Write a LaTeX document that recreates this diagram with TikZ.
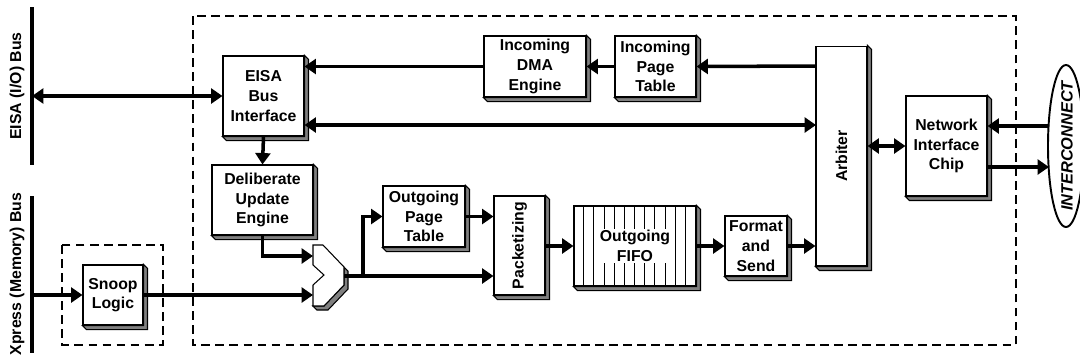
\documentclass[tikz,border=0pt]{standalone}
\usepackage{fontspec}
\setmainfont{Liberation Sans}
\usetikzlibrary{calc,arrows.meta,shapes.geometric}
\tikzset{
	blk/.style={draw, line width=0.6pt, fill=white, inner sep=0pt, align=center, font=\fontsize{9}{11.2}\selectfont\bfseries},
	lbl/.style={inner sep=0pt, align=center, font=\fontsize{9}{11.2}\selectfont\bfseries},
	arr/.style={line width=2pt, -{Triangle[length=6.5pt,width=8.5pt]}},
	dbl/.style={line width=2pt, {Triangle[length=6.5pt,width=8.5pt]}-{Triangle[length=6.5pt,width=8.5pt]}},
	frame/.style={line width=0.9pt, dash pattern=on 5pt off 3pt},
	bus/.style={line width=2.4pt}
}
\def\boxshade(#1){\filldraw[fill=black!50, line width=0.6pt] (#1.north east) -- ++(4,4) -- ($(#1.south east)+(4,4)$) -- ($(#1.south west)+(4,4)$) -- (#1.south west) -- (#1.south east) -- cycle;}

\begin{document}
\begin{tikzpicture}[x=0.02cm, y=-0.02cm]
			%%%%% START %%%%%
			\useasboundingbox (0,0) rectangle (1080,360);
			
			\draw[frame] (193,16) rectangle (1016,345);
			\draw[frame] (62,245) rectangle (163,345);
			
			% buses
			\draw[bus] (32,7) -- (32,165);
			\draw[bus] (32,196) -- (32,353);
			\node[lbl, rotate=90] (eisabus) at (17,86) {EISA (I/O) Bus};
			\node[lbl, rotate=90] (xbus) at (17,274) {Xpress (Memory) Bus};
			\coordinate (eisatap) at (32,96);
			\coordinate (xtap) at (32,295);
			
			% blocks
			\node[blk, minimum width=1.62cm, minimum height=1.6cm] (eisa) at (263.5,96) {EISA\\Bus\\Interface};
			\node[blk, minimum width=2.02cm, minimum height=1.4cm] (due) at (262.5,200) {Deliberate\\Update\\Engine};
			\node[blk, minimum width=1.2cm, minimum height=1.2cm] (snoop) at (113,295) {Snoop\\Logic};
			\node[blk, minimum width=2.04cm, minimum height=1.22cm] (idma) at (535,66.5) {Incoming\\DMA\\Engine};
			\node[blk, minimum width=1.62cm, minimum height=1.22cm] (ipt) at (655.5,66.5) {Incoming\\Page\\Table};
			\node[blk, minimum width=1.64cm, minimum height=1.22cm] (opt) at (424,216.5) {Outgoing\\Page\\Table};
			\node[blk, minimum width=1.02cm, minimum height=1.98cm] (pkt) at (519.5,245.5) {\rotatebox{90}{Packetizing}};
			\node[blk, minimum width=2.44cm, minimum height=1.6cm] (fifo) at (635,246) {};
			\node[blk, minimum width=1.24cm, minimum height=1.2cm] (fmt) at (756,246) {Format\\and\\Send};
			\node[blk, minimum width=1.02cm, minimum height=4.4cm] (arb) at (841.5,156) {\rotatebox{90}{Arbiter}};
			\node[blk, minimum width=1.62cm, minimum height=2cm] (nic) at (946.5,146) {Network\\Interface\\Chip};
			
			\foreach \b in {eisa,due,snoop,idma,ipt,opt,pkt,fifo,fmt,arb,nic}
				\boxshade(\b);
			
			\foreach \i in {1,...,11}
				\draw[line width=0.4pt] ($(fifo.north west)+(\i*10.17,0)$) -- ($(fifo.south west)+(\i*10.17,0)$);
			\node[lbl, fill=white, inner sep=1pt] (fifolbl) at (fifo) {Outgoing\\FIFO};
			
			% merge
			\filldraw[fill=black!50, line width=0.6pt] (344,267) -- (348,271) -- (348,289) -- (328,310) -- (317,310) -- (313,306) -- (324,306) -- (344,285) -- cycle;
			\filldraw[fill=white, line width=0.6pt] (313,245) -- (323,245) -- (344,267) -- (344,285) -- (324,306) -- (313,306) -- (313,285) -- (324,275) -- (313,265) -- cycle;
			\coordinate (mrgA) at (313,256);
			\coordinate (mrgB) at (313,295);
			\coordinate (mrgO) at (344,276);
			\coordinate (brch) at (363,276);
			
			% interconnect
			\node[draw, ellipse, line width=1.1pt, minimum width=0.72cm, minimum height=3.24cm, inner sep=0pt] (ic) at (1066,146) {};
			\node[lbl, font=\fontsize{9.3}{11}\selectfont\bfseries\itshape] (iclbl) at (1067,146) {\rotatebox{90}{INTERCONNECT}};
			\coordinate (icin) at (1049,126);
			\coordinate (icout) at (1049,167);
			\coordinate (arbtop) at (816,66);
			\coordinate (arbmid) at (816,125);
			
			% connectors
			\draw[dbl] (eisatap) -- (eisa.west);
			\draw[arr] (arbtop) -- (ipt.east);
			\draw[arr] (ipt.west) -- (idma.east);
			\draw[arr] (idma.west) -- (idma.west -| eisa.east);
			\draw[dbl] (arbmid -| eisa.east) -- (arbmid);
			\draw[arr] (eisa.south) -- (due.north);
			\draw[arr] (due.south) |- (mrgA);
			\draw[arr] (xtap) -- (snoop.west);
			\draw[arr] (snoop.east) -- (mrgB);
			\draw[arr] (mrgO) -- (mrgO -| pkt.west);
			\draw[arr] (brch) |- (opt.west);
			\draw[arr] (opt.east) -- (opt.east -| pkt.west);
			\draw[arr] (pkt.east |- fifo.west) -- (fifo.west);
			\draw[arr] (fifo.east) -- (fmt.west);
			\draw[arr] (fmt.east) -- (fmt.east -| arb.west);
			\draw[dbl] (arb.east |- nic.west) -- (nic.west);
			\draw[arr] (icin) -- (icin -| nic.east);
			\draw[arr] (icout -| nic.east) -- (icout);
			
			%%%%% END %%%%%
\end{tikzpicture}
\end{document}
